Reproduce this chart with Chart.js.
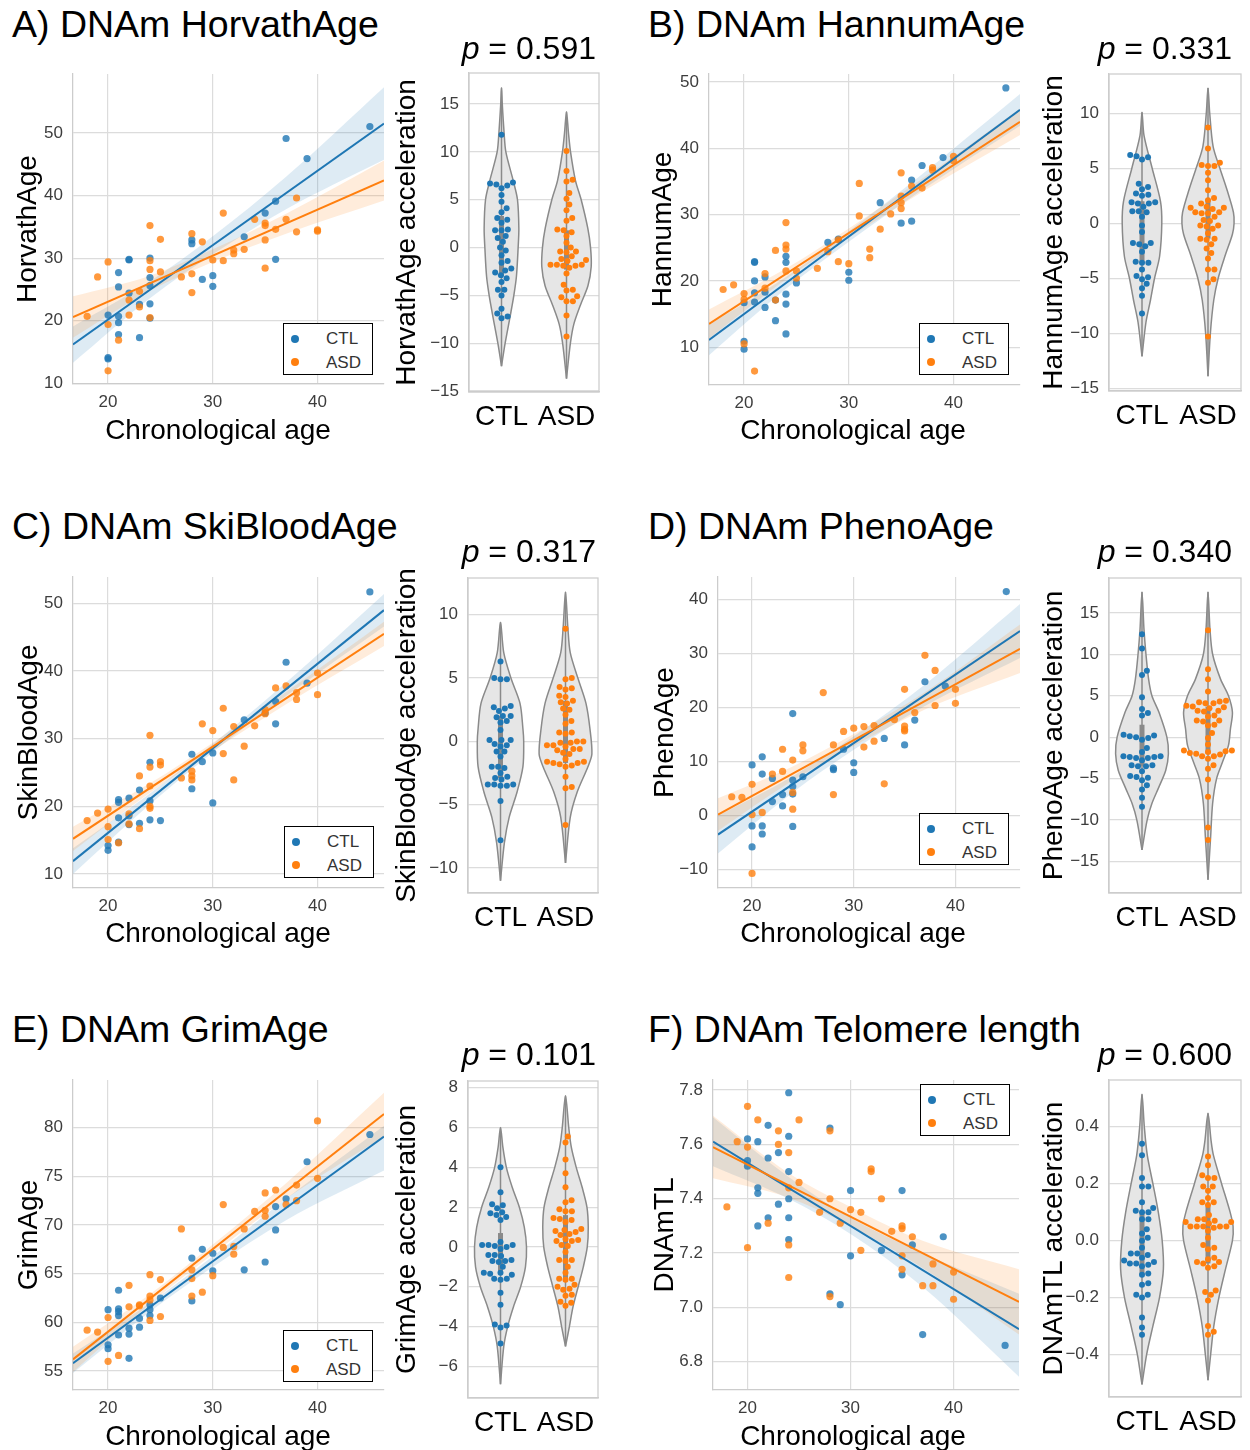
<!DOCTYPE html>
<html>
<head>
<meta charset="utf-8">
<title>DNAm age clocks: CTL vs ASD</title>
<script src="https://cdn.jsdelivr.net/npm/chart.js@4.4.1/dist/chart.umd.min.js"></script>
<style>
  html, body { margin: 0; padding: 0; background: #fff; }
  body { position: relative; width: 1250px; height: 1450px; overflow: hidden; font-family: "Liberation Sans", Arial, sans-serif; }
  canvas { position: absolute; }
  .title { position: absolute; font-size: 37.5px; line-height: 37.5px; white-space: nowrap; color: #000; }
  .pval { position: absolute; font-size: 32px; line-height: 32px; white-space: nowrap; color: #000; text-align: right; }
  .pval i { font-style: italic; }
  .xlab { position: absolute; width: 400px; font-size: 28px; line-height: 28px; text-align: center; white-space: nowrap; color: #000; }
  .legend { position: absolute; width: 88px; height: 50px; border: 1.5px solid #000; background: #fff; }
  .legend .dot { position: absolute; left: 6.5px; width: 8px; height: 8px; border-radius: 50%; }
  .legend .lab { position: absolute; left: 42px; font-size: 17px; line-height: 17px; color: #333; }
</style>
</head>
<body>
<script>
// ---- shared ----
const groups = ['CTL', 'ASD'];
const xRange = [16.65, 46.35];
const bandX = [16.65, 24, 30, 37, 46.35];

// ---- A) HorvathAge ----
const horvathCtl = [[20,20.9],[20,14.1],[20,13.9],[21,27.7],[21,25.4],[21,20.7],[21,19.7],[21,17.8],[22,29.8],[22,29.7],[22,24.4],[23,22.6],[23,17.3],[24,30.0],[24,26.9],[24,25.6],[24,22.7],[24,20.4],[28,32.9],[28,32.3],[29,26.6],[30,27.2],[30,25.5],[33,33.4],[35,37.2],[36,39.1],[36,29.8],[37,49.1],[39,45.9],[45,51.0]];
const horvathAsd = [[18,20.7],[19,27.0],[20,29.4],[20,19.4],[20,12.0],[21,16.9],[22,23.3],[22,20.9],[23,24.7],[23,22.2],[24,35.2],[24,29.6],[24,28.2],[24,20.5],[25,33.0],[25,27.8],[27,27.0],[28,33.9],[28,27.5],[28,24.5],[29,32.6],[30,29.7],[31,37.2],[31,29.6],[32,31.3],[32,30.7],[33,31.4],[34,36.2],[35,35.6],[35,35.2],[35,32.9],[35,28.4],[36,34.6],[37,36.2],[38,39.6],[38,34.2],[40,34.5],[40,34.3]];
const horvathCtlFit = [16.2, 51.5];
const horvathAsdFit = [20.6, 42.4];
const horvathCtlLo = [13.3, 23.6, 30.6, 37.8, 45.7];
const horvathCtlHi = [19.1, 26.3, 33.5, 43.0, 57.3];
const horvathAsdLo = [17.3, 24.8, 29.4, 33.9, 39.2];
const horvathAsdHi = [23.9, 27.2, 31.4, 37.1, 45.6];
const horvathAccCtl = [11.8, 6.8, 6.7, 6.6, 6.5, 6.2, 5.5, 4.8, 4.1, 3.7, 3.1, 2.9, 2.6, 1.9, 1.8, 1.8, 1.2, 1.0, 0.6, 0.0, -0.3, -0.8, -1.4, -1.6, -2.2, -2.4, -2.6, -2.9, -3.2, -3.6, -4.4, -4.4, -5.0, -6.4, -6.9, -7.2, -7.4];
const horvathAccAsd = [10.1, 8.0, 7.1, 6.9, 5.7, 5.1, 4.5, 3.9, 3.1, 2.8, 1.9, 1.8, 1.6, 1.2, 0.5, 0.0, -0.4, -0.4, -0.5, -0.9, -1.2, -1.3, -1.4, -1.8, -1.8, -1.8, -1.9, -1.9, -2.1, -2.7, -3.9, -4.4, -4.5, -5.1, -5.2, -5.6, -5.6, -7.1, -9.3];
const horvathViolinCtl = [[-12.4,0],[-10,0.056],[-7,0.138],[-5,0.19],[-3,0.23],[0,0.256],[2,0.267],[5,0.246],[7,0.18],[10,0.067],[12,0.04],[15,0.012],[16.7,0]];
const horvathViolinAsd = [[-13.7,0],[-10,0.06],[-8,0.113],[-6,0.215],[-4,0.33],[-2,0.38],[0,0.37],[2,0.328],[5,0.226],[7,0.138],[10,0.062],[12,0.03],[14.2,0]];
const horvathIqrCtl = [-3.0, 3.3];
const horvathIqrAsd = [-2.3, 1.8];

// ---- B) HannumAge ----
const hannumCtl = [[20,10.9],[20,9.7],[20,16.7],[21,22.9],[21,22.8],[21,20.0],[21,18.2],[21,16.8],[22,20.6],[22,18.3],[22,16.0],[23,17.1],[23,14.0],[24,23.7],[24,22.8],[24,18.0],[24,16.5],[24,12.0],[25,19.7],[28,25.8],[29,26.3],[30,21.3],[30,20.1],[33,31.8],[35,28.7],[36,35.2],[36,29.0],[37,37.4],[39,38.6],[45,49.1]];
const hannumAsd = [[18,18.7],[19,19.4],[20,18.1],[20,17.2],[20,10.5],[21,6.4],[22,21.1],[22,18.9],[23,24.6],[23,17.1],[24,28.8],[24,25.4],[24,24.8],[24,21.5],[25,21.5],[25,20.4],[27,21.9],[28,24.4],[29,26.2],[29,22.9],[30,22.6],[31,34.7],[31,29.8],[32,24.8],[32,23.5],[33,27.8],[34,30.1],[35,36.3],[35,32.8],[35,31.8],[35,30.9],[36,34.3],[37,34.0],[38,37.1],[38,36.7],[40,38.8],[40,38.1]];
const hannumCtlFit = [11.1, 45.8];
const hannumAsdFit = [13.5, 44.0];
const hannumCtlLo = [8.8, 18.8, 25.9, 33.7, 43.4];
const hannumCtlHi = [13.4, 20.6, 27.5, 36.1, 48.2];
const hannumAsdLo = [11.3, 20.25, 26.5, 33.4, 42.0];
const hannumAsdHi = [15.7, 21.85, 27.9, 35.4, 46.0];
const hannumAccCtl = [6.2, 6.1, 6.0, 5.8, 3.6, 3.3, 3.1, 2.7, 2.6, 2.5, 1.9, 1.9, 1.8, 1.8, 1.5, 1.1, 1.1, 1.0, 0.6, -0.2, -0.8, -1.8, -1.8, -1.9, -2.1, -2.6, -3.5, -3.6, -3.6, -4.2, -4.8, -4.9, -5.1, -5.5, -5.9, -6.6, -8.2];
const hannumAccAsd = [8.7, 6.8, 5.5, 5.3, 5.2, 5.2, 4.6, 3.9, 3.0, 2.3, 2.1, 1.8, 1.5, 1.4, 1.4, 1.3, 1.0, 1.0, 0.9, 0.9, 0.6, 0.3, 0.2, -0.2, -0.2, -0.3, -0.5, -0.9, -1.4, -1.4, -1.5, -1.9, -2.3, -2.7, -3.2, -4.2, -4.2, -5.1, -5.4, -10.3];
const hannumViolinCtl = [[-12.1,0],[-9,0.06],[-7,0.128],[-5,0.19],[-3,0.267],[0,0.30],[2,0.28],[5,0.154],[8,0.03],[10.1,0]];
const hannumViolinAsd = [[-13.9,0],[-10,0.036],[-7,0.087],[-5,0.154],[-3,0.256],[-1,0.37],[0,0.395],[1,0.385],[3,0.29],[5,0.18],[7,0.077],[10,0.026],[12.3,0]];
const hannumIqrCtl = [-3.6, 2.0];
const hannumIqrAsd = [-1.4, 2.2];

// ---- C) SkinBloodAge ----
const skinCtl = [[20,14.2],[20,13.5],[21,21.0],[21,20.6],[21,18.3],[21,14.7],[22,21.2],[22,18.6],[22,17.3],[23,22.4],[23,17.5],[24,26.5],[24,20.8],[24,18.0],[25,17.9],[28,27.7],[28,22.6],[29,26.6],[30,27.9],[30,20.5],[33,32.8],[35,33.8],[36,35.5],[36,32.2],[37,41.3],[39,38.2],[45,51.7]];
const skinAsd = [[18,17.9],[19,19.0],[20,19.6],[20,17.0],[20,15.1],[21,14.6],[22,18.9],[22,17.4],[23,24.5],[23,16.7],[24,30.5],[24,25.8],[24,23.0],[24,20.0],[24,19.7],[25,26.6],[25,26.1],[27,24.2],[28,25.2],[28,24.5],[28,23.9],[29,32.2],[30,31.2],[31,34.5],[31,27.8],[32,23.9],[32,31.8],[33,28.9],[34,31.9],[35,33.7],[35,34.3],[36,37.5],[37,37.8],[38,36.8],[38,35.8],[40,39.7],[40,36.5]];
const skinCtlFit = [11.9, 49.0];
const skinAsdFit = [15.2, 45.5];
const skinCtlLo = [10.0, 20.3, 28.0, 36.3, 46.6];
const skinCtlHi = [13.8, 21.9, 29.2, 38.3, 51.4];
const skinAsdLo = [13.4, 22.0, 28.2, 35.1, 43.7];
const skinAsdHi = [17.0, 23.4, 29.4, 36.9, 47.3];
const skinAccCtl = [6.3, 5.0, 4.9, 4.9, 2.8, 2.7, 2.6, 2.4, 2.0, 2.0, 1.9, 1.6, 1.5, 0.9, 0.1, 0.1, 0.1, -0.2, -0.3, -0.4, -0.8, -0.8, -1.2, -2.0, -2.0, -2.1, -2.5, -2.8, -2.9, -3.0, -3.4, -3.4, -3.4, -3.5, -3.5, -4.7, -7.8];
const skinAccAsd = [8.9, 5.0, 4.9, 4.3, 4.2, 4.1, 3.6, 3.5, 3.2, 3.1, 3.0, 2.6, 2.5, 2.1, 1.6, 1.4, 0.7, 0.7, 0.6, 0.0, 0.0, -0.1, -0.1, -0.3, -0.3, -0.4, -0.6, -0.6, -0.7, -0.9, -1.0, -1.4, -1.6, -1.6, -1.7, -1.7, -1.8, -1.9, -2.0, -2.8, -3.6, -3.7, -6.6];
const skinViolinCtl = [[-11.0,0],[-8,0.06],[-6,0.133],[-4,0.255],[-2,0.345],[0,0.357],[1,0.345],[3,0.30],[5,0.16],[7,0.05],[9.4,0]];
const skinViolinAsd = [[-9.6,0],[-6,0.073],[-4,0.18],[-2,0.345],[-1,0.406],[1,0.376],[3,0.315],[5,0.19],[7,0.073],[9,0.036],[11.8,0]];
const skinIqrCtl = [-2.9, 2.0];
const skinIqrAsd = [-1.7, 3.2];

// ---- D) PhenoAge ----
const phenoCtl = [[20,9.4],[20,-1.9],[20,-5.8],[21,10.9],[21,7.7],[21,-1.9],[21,-3.4],[22,6.9],[22,2.6],[23,3.9],[23,1.8],[24,18.9],[24,6.6],[24,5.4],[24,4.0],[24,-2.0],[25,7.2],[28,8.5],[28,8.8],[29,12.3],[30,9.8],[30,8.0],[33,14.3],[35,13.1],[36,17.7],[37,24.8],[39,24.0],[45,41.5]];
const phenoAsd = [[18,3.5],[19,3.4],[20,5.8],[20,0.2],[20,-10.7],[21,0.6],[22,7.7],[23,12.3],[23,8.2],[24,10.3],[24,4.3],[24,1.2],[25,13.1],[25,12.0],[27,22.8],[28,13.1],[28,3.9],[29,15.6],[30,16.2],[31,16.5],[31,12.7],[32,16.7],[32,13.8],[33,5.9],[34,17.8],[35,23.4],[35,16.6],[35,16.0],[35,15.7],[36,19.1],[37,29.7],[38,26.9],[38,20.4],[40,23.4],[40,20.8]];
const phenoCtlFit = [-3.5, 34.2];
const phenoAsdFit = [0.2, 30.9];
const phenoCtlLo = [-7.0, 4.3, 12.2, 20.3, 29.2];
const phenoCtlHi = [0.0, 7.3, 14.7, 24.3, 39.2];
const phenoAsdLo = [-2.8, 6.5, 12.9, 19.65, 26.4];
const phenoAsdHi = [3.2, 9.1, 15.1, 22.85, 35.4];
const phenoAccCtl = [12.4, 10.7, 8.0, 7.5, 4.8, 3.4, 2.9, 2.6, 0.3, 0.2, 0.1, 0.0, -0.1, -0.3, -1.3, -1.8, -2.3, -2.3, -2.4, -2.4, -2.5, -2.5, -2.8, -3.4, -3.4, -3.5, -3.5, -4.1, -4.7, -4.8, -4.9, -5.2, -5.8, -6.3, -7.3, -8.4];
const phenoAccAsd = [12.9, 8.2, 7.0, 5.5, 4.4, 4.3, 4.2, 4.1, 4.1, 3.8, 3.7, 3.6, 3.5, 3.2, 3.2, 3.1, 2.6, 2.5, 2.0, 2.0, 1.9, 1.5, 1.4, 0.5, -0.1, -0.9, -1.6, -1.6, -1.7, -1.8, -1.9, -2.0, -2.1, -2.3, -2.3, -2.6, -3.4, -3.8, -5.1, -7.2, -10.9, -12.4];
const phenoViolinCtl = [[-13.6,0],[-10,0.078],[-8,0.15],[-6,0.257],[-4,0.36],[-2,0.40],[0,0.377],[3,0.257],[5,0.15],[7,0.10],[10,0.06],[13,0.03],[17.5,0]];
const phenoViolinAsd = [[-17.2,0],[-12,0.04],[-8,0.07],[-5,0.13],[-3,0.22],[-1,0.31],[1,0.34],[3,0.37],[5,0.31],[7,0.19],[10,0.07],[13,0.03],[17.5,0]];
const phenoIqrCtl = [-3.5, 1.5];
const phenoIqrAsd = [-2.0, 3.7];

// ---- E) GrimAge ----
const grimCtl = [[20,61.3],[20,57.7],[20,57.3],[21,63.3],[21,61.4],[21,61.1],[21,60.7],[21,58.7],[22,59.4],[22,58.8],[22,56.3],[23,60.4],[23,59.5],[24,61.8],[24,61.3],[24,60.7],[25,62.5],[28,66.6],[28,62.2],[29,67.5],[30,67.1],[30,65.3],[33,65.4],[35,66.2],[36,71.9],[36,69.5],[37,72.7],[39,76.5],[45,79.3]];
const grimAsd = [[18,59.2],[19,59.0],[20,60.5],[20,56.0],[21,56.6],[22,63.8],[22,61.6],[23,61.8],[23,61.7],[24,64.9],[24,62.7],[24,62.3],[24,60.2],[25,64.4],[25,60.6],[27,69.6],[28,65.4],[28,64.5],[28,62.7],[29,63.1],[30,64.8],[31,72.1],[31,67.7],[32,67.0],[32,67.8],[33,69.6],[34,71.4],[35,73.3],[35,71.5],[35,70.9],[36,73.6],[37,72.1],[38,74.1],[38,72.5],[40,80.7],[40,74.8]];
const grimCtlFit = [55.8, 79.1];
const grimAsdFit = [56.2, 81.4];
const grimCtlLo = [54.8, 61.1, 65.7, 70.5, 75.6];
const grimCtlHi = [56.8, 62.0, 66.8, 72.7, 80.2];
const grimAsdLo = [54.9, 61.9, 67.0, 72.7, 79.1];
const grimAsdHi = [57.5, 62.9, 68.0, 74.3, 83.6];
const grimAccCtl = [4.0, 2.75, 2.15, 2.1, 1.95, 1.75, 1.7, 1.6, 1.5, 1.35, 0.25, 0.1, 0.1, 0.1, 0.05, 0.0, -0.1, -0.4, -0.4, -0.45, -0.65, -0.7, -0.7, -0.75, -1.0, -1.3, -1.3, -1.35, -1.4, -1.6, -1.6, -1.65, -2.3, -2.9, -3.9, -3.95, -4.05, -4.85];
const grimAccAsd = [5.55, 5.25, 4.4, 3.7, 3.0, 2.35, 2.25, 1.9, 1.8, 1.8, 1.45, 1.4, 1.35, 1.25, 0.9, 0.85, 0.8, 0.75, 0.65, 0.6, 0.4, 0.35, 0.3, 0.3, 0.1, 0.05, -0.25, -0.65, -0.65, -0.7, -1.0, -1.3, -1.6, -1.6, -1.65, -1.9, -2.0, -2.1, -2.15, -2.4, -2.45, -2.75, -2.8, -2.95];
const grimViolinCtl = [[-6.9,0],[-5,0.05],[-4,0.11],[-3,0.20],[-2,0.31],[-1,0.384],[0,0.40],[1,0.366],[2,0.29],[3,0.18],[4,0.09],[5,0.037],[6.0,0]];
const grimViolinAsd = [[-5.0,0],[-4,0.06],[-3,0.116],[-2,0.195],[-1,0.274],[0,0.335],[1,0.35],[2,0.33],[3,0.256],[4,0.165],[5,0.09],[6,0.05],[7.6,0]];
const grimIqrCtl = [-1.3, 0.7];
const grimIqrAsd = [-1.6, 1.6];

// ---- F) Telomere length ----
const teloCtl = [[20,7.62],[20,7.54],[20,7.52],[21,7.61],[21,7.44],[21,7.42],[21,7.30],[22,7.67],[22,7.55],[22,7.33],[23,7.57],[23,7.38],[24,7.79],[24,7.63],[24,7.50],[24,7.40],[24,7.33],[24,7.25],[28,7.66],[28,7.05],[29,7.01],[30,7.43],[30,7.19],[33,7.21],[35,7.43],[35,7.12],[36,7.23],[37,6.90],[39,7.26],[45,6.86]];
const teloAsd = [[18,7.37],[19,7.61],[20,7.74],[20,7.59],[20,7.22],[21,7.69],[22,7.31],[23,7.65],[23,7.60],[24,7.57],[24,7.44],[24,7.23],[24,7.11],[25,7.69],[25,7.46],[27,7.35],[28,7.65],[28,7.40],[28,7.04],[29,7.31],[30,7.36],[31,7.35],[31,7.21],[32,7.51],[32,7.50],[33,7.40],[34,7.28],[35,7.30],[35,7.29],[35,7.19],[35,7.14],[36,7.26],[37,7.08],[38,7.16],[38,7.08],[40,7.13],[40,7.03]];
const teloCtlFit = [7.61, 6.92];
const teloAsdFit = [7.59, 7.02];
const teloCtlLo = [7.52, 7.40, 7.27, 7.075, 6.745];
const teloCtlHi = [7.70, 7.48, 7.33, 7.20, 7.05];
const teloAsdLo = [7.475, 7.404, 7.30, 7.145, 6.90];
const teloAsdHi = [7.705, 7.494, 7.37, 7.245, 7.14];
const teloAccCtl = [0.34, 0.30, 0.22, 0.19, 0.19, 0.135, 0.115, 0.105, 0.10, 0.10, 0.075, 0.075, 0.04, 0.025, 0.01, 0.0, -0.025, -0.045, -0.045, -0.05, -0.06, -0.07, -0.075, -0.08, -0.08, -0.085, -0.09, -0.115, -0.12, -0.15, -0.155, -0.19, -0.19, -0.2, -0.27, -0.305, -0.33];
const teloAccAsd = [0.295, 0.265, 0.23, 0.22, 0.22, 0.19, 0.19, 0.175, 0.15, 0.135, 0.135, 0.125, 0.09, 0.075, 0.075, 0.07, 0.065, 0.065, 0.06, 0.05, 0.05, 0.05, 0.05, 0.05, 0.045, 0.035, 0.01, -0.015, -0.025, -0.03, -0.06, -0.065, -0.075, -0.075, -0.08, -0.09, -0.095, -0.175, -0.18, -0.19, -0.21, -0.30, -0.32, -0.33];
const teloViolinCtl = [[-0.505,0],[-0.4,0.07],[-0.3,0.165],[-0.2,0.265],[-0.1,0.324],[0,0.306],[0.1,0.247],[0.2,0.165],[0.3,0.08],[0.4,0.035],[0.514,0]];
const teloViolinAsd = [[-0.49,0],[-0.4,0.04],[-0.3,0.088],[-0.2,0.165],[-0.1,0.265],[0,0.37],[0.05,0.38],[0.1,0.335],[0.2,0.206],[0.3,0.082],[0.35,0.047],[0.447,0]];
const teloIqrCtl = [-0.12, 0.10];
const teloIqrAsd = [-0.08, 0.12];

// ---- panel setup (text + where each subplot sits) ----
const panels = [
  { title: 'A) DNAm HorvathAge', tx: 12, tBase: 38, p: '0.591', pRight: 596, pBase: 59, xlabX: 218, xlabBase: 440,
    yLabel: 'HorvathAge', ctl: horvathCtl, asd: horvathAsd, ctlFit: horvathCtlFit, asdFit: horvathAsdFit,
    ctlLo: horvathCtlLo, ctlHi: horvathCtlHi, asdLo: horvathAsdLo, asdHi: horvathAsdHi,
    accCtl: horvathAccCtl, accAsd: horvathAccAsd, vCtl: horvathViolinCtl, vAsd: horvathViolinAsd, iqrCtl: horvathIqrCtl, iqrAsd: horvathIqrAsd,
    sc: { L: 73, R: 384, T: 74, B: 384, min: 9.9, max: 59.4, step: 10, dec: 0, titleX: 28 }, leg: [283, 323],
    vi: { L: 469, R: 599, T: 73, B: 392, min: -15.1, max: 18.25, step: 5, dec: 0, titleX: 407 } },
  { title: 'B) DNAm HannumAge', tx: 648, tBase: 38, p: '0.331', pRight: 1232, pBase: 59, xlabX: 853, xlabBase: 440,
    yLabel: 'HannumAge', ctl: hannumCtl, asd: hannumAsd, ctlFit: hannumCtlFit, asdFit: hannumAsdFit,
    ctlLo: hannumCtlLo, ctlHi: hannumCtlHi, asdLo: hannumAsdLo, asdHi: hannumAsdHi,
    accCtl: hannumAccCtl, accAsd: hannumAccAsd, vCtl: hannumViolinCtl, vAsd: hannumViolinAsd, iqrCtl: hannumIqrCtl, iqrAsd: hannumIqrAsd,
    sc: { L: 709, R: 1020, T: 74, B: 385, min: 4.3, max: 51.2, step: 10, dec: 0, titleX: 663 }, leg: [919, 323],
    vi: { L: 1109, R: 1241, T: 74, B: 391, min: -15.25, max: 13.57, step: 5, dec: 0, titleX: 1054 } },
  { title: 'C) DNAm SkiBloodAge', tx: 12, tBase: 540, p: '0.317', pRight: 596, pBase: 562, xlabX: 218, xlabBase: 943,
    yLabel: 'SkinBloodAge', ctl: skinCtl, asd: skinAsd, ctlFit: skinCtlFit, asdFit: skinAsdFit,
    ctlLo: skinCtlLo, ctlHi: skinCtlHi, asdLo: skinAsdLo, asdHi: skinAsdHi,
    accCtl: skinAccCtl, accAsd: skinAccAsd, vCtl: skinViolinCtl, vAsd: skinViolinAsd, iqrCtl: skinIqrCtl, iqrAsd: skinIqrAsd,
    sc: { L: 73, R: 384, T: 577, B: 888, min: 7.93, max: 53.9, step: 10, dec: 0, titleX: 29 }, leg: [284, 826],
    vi: { L: 468, R: 598, T: 578, B: 893, min: -11.97, max: 12.9, step: 5, dec: 0, titleX: 407 } },
  { title: 'D) DNAm PhenoAge', tx: 648, tBase: 540, p: '0.340', pRight: 1232, pBase: 562, xlabX: 853, xlabBase: 943,
    yLabel: 'PhenoAge', ctl: phenoCtl, asd: phenoAsd, ctlFit: phenoCtlFit, asdFit: phenoAsdFit,
    ctlLo: phenoCtlLo, ctlHi: phenoCtlHi, asdLo: phenoAsdLo, asdHi: phenoAsdHi,
    accCtl: phenoAccCtl, accAsd: phenoAccAsd, vCtl: phenoViolinCtl, vAsd: phenoViolinAsd, iqrCtl: phenoIqrCtl, iqrAsd: phenoIqrAsd,
    sc: { L: 718, R: 1020, T: 577, B: 888, min: -13.4, max: 44.2, step: 10, dec: 0, titleX: 665 }, leg: [919, 813],
    vi: { L: 1109, R: 1241, T: 578, B: 893, min: -18.8, max: 19.2, step: 5, dec: 0, titleX: 1054 } },
  { title: 'E) DNAm GrimAge', tx: 12, tBase: 1043, p: '0.101', pRight: 596, pBase: 1065, xlabX: 218, xlabBase: 1446,
    yLabel: 'GrimAge', ctl: grimCtl, asd: grimAsd, ctlFit: grimCtlFit, asdFit: grimAsdFit,
    ctlLo: grimCtlLo, ctlHi: grimCtlHi, asdLo: grimAsdLo, asdHi: grimAsdHi,
    accCtl: grimAccCtl, accAsd: grimAccAsd, vCtl: grimViolinCtl, vAsd: grimViolinAsd, iqrCtl: grimIqrCtl, iqrAsd: grimIqrAsd,
    sc: { L: 73, R: 384, T: 1080, B: 1390, min: 53.05, max: 84.9, step: 5, dec: 0, titleX: 29 }, leg: [283, 1330],
    vi: { L: 468, R: 598, T: 1081, B: 1398, min: -7.59, max: 8.34, step: 2, dec: 0, titleX: 407 } },
  { title: 'F) DNAm Telomere length', tx: 648, tBase: 1043, p: '0.600', pRight: 1232, pBase: 1065, xlabX: 853, xlabBase: 1446,
    yLabel: 'DNAmTL', ctl: teloCtl, asd: teloAsd, ctlFit: teloCtlFit, asdFit: teloAsdFit,
    ctlLo: teloCtlLo, ctlHi: teloCtlHi, asdLo: teloAsdLo, asdHi: teloAsdHi,
    accCtl: teloAccCtl, accAsd: teloAccAsd, vCtl: teloViolinCtl, vAsd: teloViolinAsd, iqrCtl: teloIqrCtl, iqrAsd: teloIqrAsd,
    sc: { L: 713, R: 1019, T: 1080, B: 1390, min: 6.696, max: 7.837, step: 0.2, dec: 1, titleX: 665 }, leg: [920, 1084],
    vi: { L: 1109, R: 1241, T: 1080, B: 1397, min: -0.549, max: 0.564, step: 0.2, dec: 1, titleX: 1054 } }
];

// ---- drawing ----
Chart.defaults.font.family = '"Liberation Sans", Arial, sans-serif';
Chart.defaults.animation = false;

const BLUE = '#1f77b4', ORANGE = '#ff7f0e';
const GRID = '#dcdcdc', SPINE = '#cccccc', TICK = '#3d3d3d';
const PAD_T = 14, PAD_R = 8;
const SC_XH = 32, VI_XH = 52;
const TITLE_OFF = 20.8; // half line height (28px * 1.2) + title padding

const fmt = (v, d) => (v < -1e-9 ? '\u2212' : '') + Math.abs(v).toFixed(d);

function fixBox(size) {
  return function (scale) {
    if (scale.isHorizontal()) scale.height = size; else scale.width = size;
    scale.paddingTop = scale.paddingBottom = scale.paddingLeft = scale.paddingRight = 0;
  };
}

function addCanvas(left, top, w, h) {
  const c = document.createElement('canvas');
  c.width = w; c.height = h;
  c.style.left = left + 'px'; c.style.top = top + 'px';
  c.style.width = w + 'px'; c.style.height = h + 'px';
  document.body.appendChild(c);
  return c;
}

function yAxis(box, label, yw) {
  return {
    type: 'linear', position: 'left', min: box.min, max: box.max,
    ticks: { stepSize: box.step, includeBounds: false, padding: 10, color: TICK, font: { size: 17 },
             callback: v => fmt(v, box.dec) },
    grid: { color: GRID, lineWidth: 1.2, drawTicks: false },
    border: { color: SPINE, width: 1.25 },
    title: { display: true, text: label, color: '#000', font: { size: 28, lineHeight: 1.2 }, padding: { top: 4, bottom: 4 } },
    afterFit: fixBox(yw)
  };
}

const hidden = { legend: { display: false }, tooltip: { enabled: false } };

function drawScatter(P) {
  const s = P.sc;
  const left = Math.round(s.titleX - TITLE_OFF);
  const cv = addCanvas(left, s.T - PAD_T, s.R - left + PAD_R, PAD_T + s.B - s.T + SC_XH);
  const pts = arr => arr.map(([x, y]) => ({ x, y }));
  const band = arr => bandX.map((x, i) => ({ x, y: arr[i] }));
  const fit = arr => xRange.map((x, i) => ({ x, y: arr[i] }));
  const area = (data, fill, color, order) => ({
    type: 'line', data, fill, backgroundColor: color, borderColor: 'transparent', borderWidth: 0,
    pointRadius: 0, cubicInterpolationMode: 'monotone', order
  });
  const dots = (data, color, order) => ({
    data, backgroundColor: color, borderColor: color, borderWidth: 0, pointRadius: 3.6, order
  });
  const line = (data, color, order) => ({
    type: 'line', data, borderColor: color, borderWidth: 2, pointRadius: 0, fill: false, order
  });
  new Chart(cv, {
    type: 'scatter',
    data: { datasets: [
      area(band(P.ctlHi), '+1', 'rgba(31,119,180,0.15)', 6),
      area(band(P.ctlLo), false, 'transparent', 6),
      area(band(P.asdHi), '+1', 'rgba(255,127,14,0.15)', 5),
      area(band(P.asdLo), false, 'transparent', 5),
      dots(pts(P.ctl), 'rgba(31,119,180,0.8)', 4),
      dots(pts(P.asd), 'rgba(255,127,14,0.8)', 3),
      line(fit(P.ctlFit), BLUE, 2),
      line(fit(P.asdFit), ORANGE, 1)
    ] },
    options: {
      responsive: false, animation: false,
      layout: { padding: { top: PAD_T, right: PAD_R, left: 0, bottom: 0 } },
      plugins: hidden,
      scales: {
        x: {
          type: 'linear', position: 'bottom', min: xRange[0], max: xRange[1],
          ticks: { stepSize: 10, includeBounds: false, padding: 8, color: TICK, font: { size: 17 },
                   callback: v => fmt(v, 0) },
          grid: { color: GRID, lineWidth: 1.2, drawTicks: false },
          border: { color: SPINE, width: 1.25 },
          afterFit: fixBox(SC_XH)
        },
        y: yAxis(s, P.yLabel, s.L - left)
      }
    }
  });
}

// beeswarm placement (pixel space), like seaborn's swarmplot
function swarm(values, center, pxX, pxY, r) {
  const d = 2 * r + 0.4;
  const sorted = values.map(v => ({ v, py: v * pxY })).sort((a, b) => a.py - b.py);
  const placed = [];
  for (const p of sorted) {
    const near = placed.filter(q => Math.abs(q.py - p.py) < d);
    const cands = [0];
    for (const q of near) {
      const dx = Math.sqrt(d * d - (q.py - p.py) ** 2);
      cands.push(q.px + dx, q.px - dx);
    }
    cands.sort((a, b) => Math.abs(a) - Math.abs(b));
    p.px = cands.find(c => near.every(q => (q.px - c) ** 2 + (q.py - p.py) ** 2 >= d * d - 0.01)) || 0;
    placed.push(p);
  }
  return placed.map(p => ({ x: center + p.px / pxX, y: p.v }));
}

function violinShape(outline, c) {
  const leftSide = outline.map(([y, w]) => ({ x: c - w, y }));
  const rightSide = outline.slice(0, -1).reverse().map(([y, w]) => ({ x: c + w, y }));
  return leftSide.concat(rightSide);
}

const framePlugin = {
  id: 'frame',
  afterDraw(chart) {
    const { ctx, chartArea: a } = chart;
    ctx.save();
    ctx.strokeStyle = SPINE;
    ctx.lineWidth = 1.25;
    ctx.strokeRect(a.left, a.top, a.right - a.left, a.bottom - a.top);
    ctx.restore();
  }
};

function drawViolin(P) {
  const v = P.vi;
  const left = Math.round(v.titleX - TITLE_OFF);
  const cv = addCanvas(left, v.T - PAD_T, v.R - left + PAD_R, PAD_T + v.B - v.T + VI_XH);
  const pxX = (v.R - v.L) / 2;
  const pxY = (v.B - v.T) / (v.max - v.min);
  const shape = (outline, c, order) => ({
    type: 'line', data: violinShape(outline, c), fill: 'shape', backgroundColor: '#e6e6e6',
    borderColor: '#8a8a8a', borderWidth: 1.5, pointRadius: 0, tension: 0.3, order
  });
  const stick = (outline, c, order) => ({
    type: 'line', data: [{ x: c, y: outline[0][0] }, { x: c, y: outline[outline.length - 1][0] }],
    borderColor: '#8a8a8a', borderWidth: 1.5, pointRadius: 0, fill: false, order
  });
  const box = (iqr, c, order) => ({
    type: 'line', data: [{ x: c, y: iqr[0] }, { x: c, y: iqr[1] }],
    borderColor: '#8a8a8a', borderWidth: 5, pointRadius: 0, fill: false, order
  });
  const bees = (vals, c, color, order) => ({
    data: swarm(vals, c, pxX, pxY, 3), backgroundColor: color, borderColor: color, borderWidth: 0,
    pointRadius: 3, order
  });
  new Chart(cv, {
    type: 'scatter',
    data: { datasets: [
      shape(P.vCtl, 0, 9), shape(P.vAsd, 1, 9),
      stick(P.vCtl, 0, 8), stick(P.vAsd, 1, 8),
      box(P.iqrCtl, 0, 7), box(P.iqrAsd, 1, 7),
      bees(P.accCtl, 0, BLUE, 2), bees(P.accAsd, 1, ORANGE, 1)
    ] },
    options: {
      responsive: false, animation: false,
      layout: { padding: { top: PAD_T, right: PAD_R, left: 0, bottom: 0 } },
      plugins: hidden,
      scales: {
        x: {
          type: 'linear', position: 'bottom', min: -0.5, max: 1.5,
          afterBuildTicks: axis => { axis.ticks = groups.map((g, i) => ({ value: i })); },
          ticks: { padding: 8, color: '#000', font: { size: 28 }, callback: val => groups[val] ?? '' },
          grid: { display: false, drawTicks: false },
          border: { color: SPINE, width: 1.25 },
          afterFit: fixBox(VI_XH)
        },
        y: yAxis(v, P.yLabel + ' acceleration', v.L - left)
      }
    },
    plugins: [framePlugin]
  });
}

function addText(P) {
  const t = document.createElement('div');
  t.className = 'title';
  t.textContent = P.title;
  t.style.left = P.tx + 'px';
  t.style.top = (P.tBase - 31.7) + 'px';
  document.body.appendChild(t);

  const p = document.createElement('div');
  p.className = 'pval';
  p.innerHTML = '<i>p</i> = ' + P.p;
  p.style.right = (1250 - P.pRight) + 'px';
  p.style.top = (P.pBase - 27.1) + 'px';
  document.body.appendChild(p);

  const xl = document.createElement('div');
  xl.className = 'xlab';
  xl.textContent = 'Chronological age';
  xl.style.left = (P.xlabX - 200) + 'px';
  xl.style.top = (P.xlabBase - 23.7) + 'px';
  document.body.appendChild(xl);

  const lg = document.createElement('div');
  lg.className = 'legend';
  lg.style.left = P.leg[0] + 'px';
  lg.style.top = P.leg[1] + 'px';
  [BLUE, ORANGE].forEach((col, i) => {
    const dot = document.createElement('span');
    dot.className = 'dot';
    dot.style.background = col;
    dot.style.top = (10.5 + i * 23.5) + 'px';
    const lab = document.createElement('span');
    lab.className = 'lab';
    lab.textContent = groups[i];
    lab.style.top = (6 + i * 23.5) + 'px';
    lg.appendChild(dot);
    lg.appendChild(lab);
  });
  document.body.appendChild(lg);
}

panels.forEach(P => {
  drawScatter(P);
  drawViolin(P);
  addText(P);
});
</script>
</body>
</html>
